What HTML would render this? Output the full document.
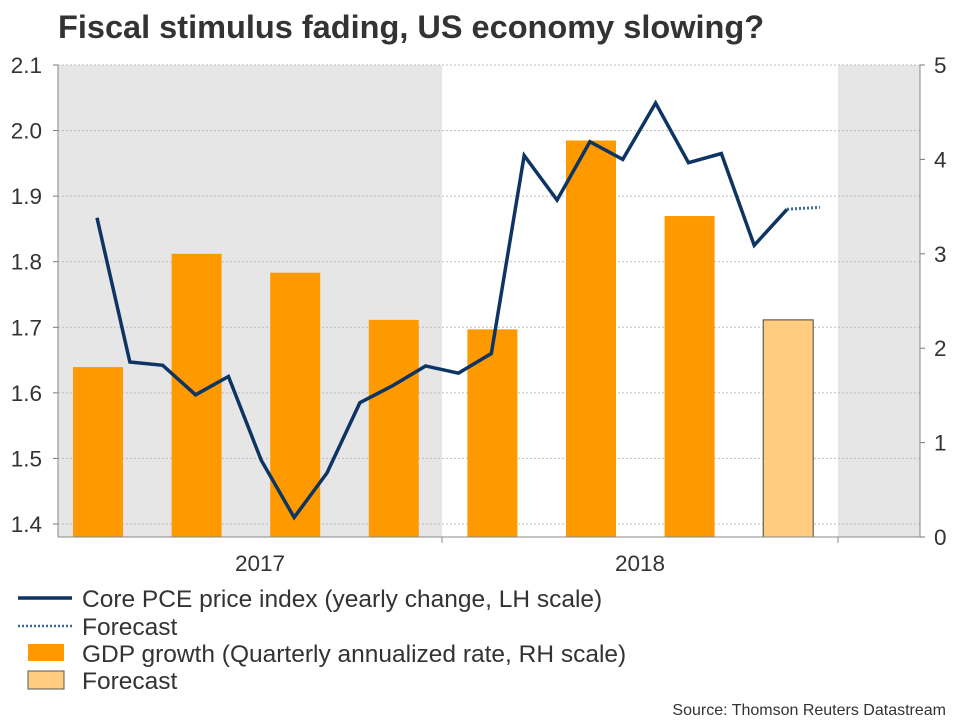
<!DOCTYPE html>
<html><head><meta charset="utf-8"><style>
body{margin:0;background:#fff;font-family:"Liberation Sans",Arial,sans-serif;}
svg text{font-family:"Liberation Sans",Arial,sans-serif;}
</style></head><body>
<svg id="c" width="960" height="720" xmlns="http://www.w3.org/2000/svg">
<text x="58" y="38" font-size="32.5" font-weight="bold" fill="#333">Fiscal stimulus fading, US economy slowing?</text>
<g id="plot"></g>
<g font-size="24.5" fill="#333">
<line x1="18" y1="598" x2="72" y2="598" stroke="#0d3463" stroke-width="3.5"/>
<text x="82" y="607" fill="#333">Core PCE price index (yearly change, LH scale)</text>
<line x1="18" y1="626" x2="72" y2="626" stroke="#3d6a99" stroke-width="2.5" stroke-dasharray="2,2"/>
<text x="82" y="635" fill="#333">Forecast</text>
<rect x="28" y="644" width="36" height="17" fill="#ff9900"/>
<text x="82" y="662" fill="#333">GDP growth (Quarterly annualized rate, RH scale)</text>
<rect x="28" y="671" width="36" height="18" fill="#ffcc80" stroke="#555" stroke-width="1"/>
<text x="82" y="689" fill="#333">Forecast</text>
</g>
<text x="946" y="715" font-size="16" fill="#333" text-anchor="end">Source: Thomson Reuters Datastream</text>
</svg>
<script>
const pceValues=[1.867,1.647,1.642,1.597,1.625,1.497,1.41,1.478,1.585,1.611,1.641,1.63,1.66,1.962,1.894,1.983,1.956,2.042,1.951,1.965,1.825,1.880];
const pceForecast=[1.880,1.883];
const gdpValues=[1.8,3.0,2.8,2.3,2.2,4.2,3.4];
const gdpForecast=[2.3];
const leftTicks=[1.4,1.5,1.6,1.7,1.8,1.9,2.0,2.1];
const rightTicks=[0,1,2,3,4,5];
const yearLabels=["2017","2018"];

const NS="http://www.w3.org/2000/svg";
const L=58,R=920,T=65,B=537;
const yL=v=>524-(v-1.4)/0.1*65.57;
const yR=v=>B-(v/5)*(B-T);
const monthX=i=>97+i*32.86;
const quarterX=i=>98+i*98.6;
const g=document.getElementById('plot');
function mk(tag,attrs,parent){const e=document.createElementNS(NS,tag);for(const k in attrs)e.setAttribute(k,attrs[k]);(parent||g).appendChild(e);return e;}

let e;
e=mk('rect',{x:L,y:T,width:442-L,height:B-T,fill:'#e6e6e6'});


e=mk('rect',{x:838,y:T,width:R-838,height:B-T,fill:'#e6e6e6'});



leftTicks.forEach(v=>{
  const y=yL(v);
  e=mk('line',{x1:L,x2:R,y1:y,y2:y,stroke:'#bbb','stroke-dasharray':'2,2'});
  
  
  mk('line',{x1:L-5,x2:L,y1:y,y2:y,stroke:'#777'});
  e=mk('text',{x:L-16,y:y+8,'font-size':22.5,fill:'#333','text-anchor':'end'});
  e.textContent=v.toFixed(1);
  
  
});
rightTicks.forEach(v=>{
  const y=yR(v);
  mk('line',{x1:R,x2:R+5,y1:y,y2:y,stroke:'#777'});
  e=mk('text',{x:R+14,y:y+8,'font-size':22.5,fill:'#333'});
  e.textContent=v;
  
  
});

gdpValues.forEach((v,i)=>{
  const x=quarterX(i);
  e=mk('rect',{x:x-25,y:yR(v),width:50,height:B-yR(v),fill:'#ff9900'});
  
  
});
gdpForecast.forEach((v,i)=>{
  const x=quarterX(gdpValues.length+i);
  e=mk('rect',{x:x-25,y:yR(v),width:50,height:B-yR(v),fill:'#ffcc80',stroke:'#444','stroke-width':1});
  
  
});

e=mk('polyline',{points:pceValues.map((v,i)=>monthX(i)+','+yL(v)).join(' '),fill:'none',stroke:'#0d3463','stroke-width':3.5,'stroke-linejoin':'miter'});


const f0=pceValues.length-1;
e=mk('polyline',{points:pceForecast.map((v,i)=>monthX(f0+i)+','+yL(v)).join(' '),fill:'none',stroke:'#3d6a99','stroke-width':3,'stroke-dasharray':'2,2'});



mk('line',{x1:L,x2:L,y1:T,y2:B,stroke:'#888'});
mk('line',{x1:R,x2:R,y1:T,y2:B,stroke:'#888'});
mk('line',{x1:L,x2:R,y1:B,y2:B,stroke:'#888'});
[442,838].forEach(x=>mk('line',{x1:x,x2:x,y1:B,y2:B+6,stroke:'#888'}));
[260,640].forEach((x,i)=>{
  e=mk('text',{x:x,y:571,'font-size':22.5,fill:'#333','text-anchor':'middle'});
  e.textContent=yearLabels[i];
  
  
});
</script>
</body></html>
